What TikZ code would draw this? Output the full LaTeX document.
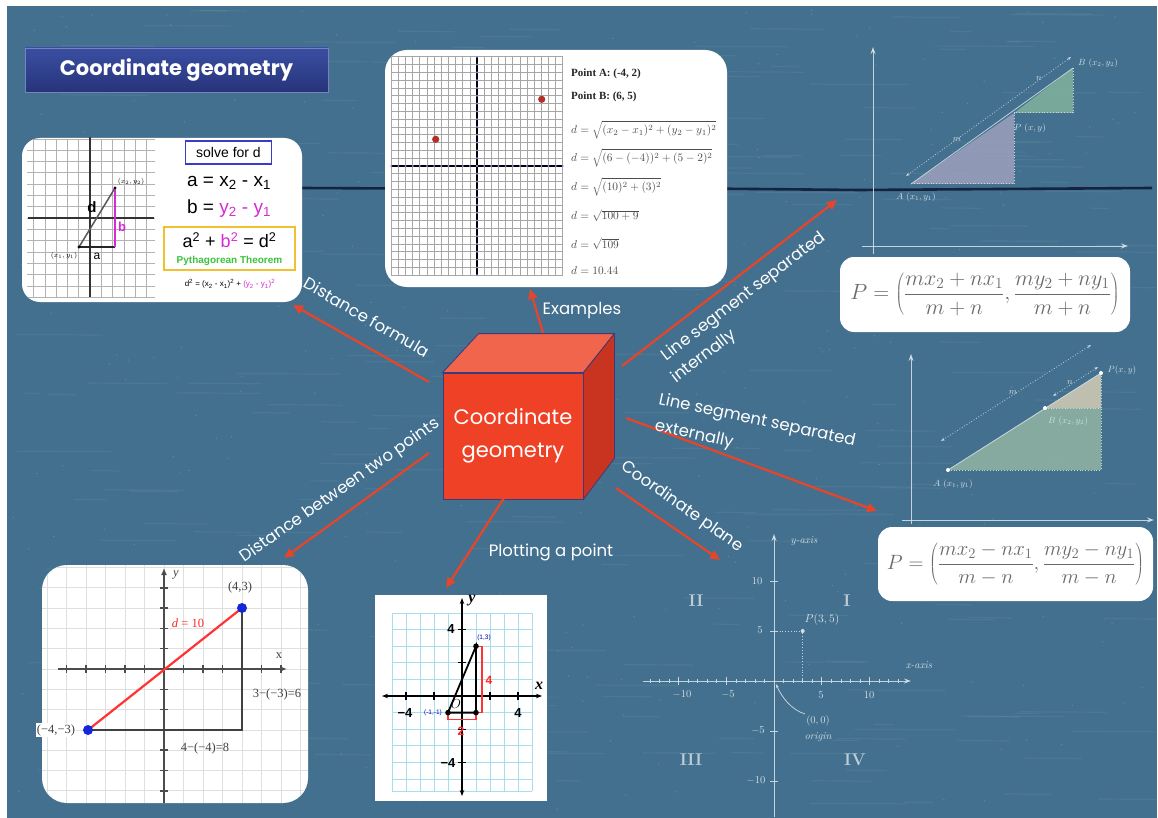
\RequirePackage{fix-cm}
\documentclass[tikz,border=0pt]{standalone}
\usepackage{fontspec}
\usetikzlibrary{arrows.meta,calc}
\newfontfamily\fpop{Poppins}
\newfontfamily\fsans{Liberation Sans}
\newfontfamily\fserif{Liberation Serif}
\definecolor{board}{HTML}{42708E}
\definecolor{crack}{HTML}{142440}
\definecolor{arred}{HTML}{E4462C}
\definecolor{chalk}{HTML}{D3DDE4}
\definecolor{cubefront}{HTML}{EE4125}
\definecolor{cubetop}{HTML}{F0654B}
\definecolor{cuberight}{HTML}{C93420}
\definecolor{cubeedge}{HTML}{3D3A7A}
\definecolor{titletop}{HTML}{3A4EA2}
\definecolor{titlebot}{HTML}{27347A}
\definecolor{formgray}{HTML}{6A6A6A}
\definecolor{magB}{HTML}{D62AD6}
\definecolor{gridblue}{HTML}{A9DCEC}
\definecolor{pyth}{HTML}{3CC23C}
\definecolor{ybox}{HTML}{F0C030}
\definecolor{solveblue}{HTML}{3B3BC8}
\definecolor{ptblue}{HTML}{1426D8}
\definecolor{dotred}{HTML}{B3302A}
\definecolor{triGray}{HTML}{A3A4C0}
\definecolor{triGreen}{HTML}{86B69C}
\definecolor{quadGreen}{HTML}{93B5A4}
\definecolor{triBeige}{HTML}{CCC8B2}
\begin{document}
\begin{tikzpicture}[x=1pt,y=-1pt,
  card/.style={fill=white,draw=none,rounded corners=#1,inner sep=0pt},
  card/.default=18pt,
  lbl/.style={text=white,font=\fpop\fontsize{16.5}{19}\selectfont,inner sep=0pt},
  conn/.style={draw=arred,line width=2.3pt,-{Triangle[length=10pt,width=9pt]}},
  chalkln/.style={draw=chalk,line width=0.8pt,opacity=0.9},
  chalkax/.style={draw=chalk,line width=0.9pt,opacity=0.9,-{Stealth[length=7pt,width=5pt]}},
  chalktxt/.style={text=chalk,font=\fontsize{9}{10}\selectfont,inner sep=1pt},
  planetxt/.style={text=chalk,font=\fontsize{10.5}{12}\selectfont,inner sep=1pt},
  quad/.style={text=chalk,font=\fontsize{17}{19}\selectfont\bfseries,inner sep=0pt,opacity=0.85},
  gridg/.style={draw=gray!60,line width=0.6pt},
  formtxt/.style={text=black!70,font=\fontsize{11.4}{13}\selectfont,inner sep=0pt,anchor=west},
  blk/.style={text=black!75,font=\fserif\fontsize{12.5}{14}\selectfont,inner sep=0pt},
  bctxt/.style={text=black,font=\fsans\bfseries\fontsize{13}{15}\selectfont,inner sep=0pt},
  ]
\useasboundingbox (0,0) rectangle (1158,818);
\fill[white] (0,0) rectangle (1158,818);
\fill[board] (7,6) rectangle (1157,818);
% chalk texture
\pgfmathsetseed{4242}
\foreach \i in {1,...,260}{
  \pgfmathsetmacro\rx{10+1100*rnd}
  \pgfmathsetmacro\ry{10+800*rnd}
  \pgfmathsetmacro\rl{15+90*rnd}
  \draw[white,opacity=0.06,line width=1.2pt] (\rx,\ry) -- (\rx+\rl,\ry+0.5);
}
\foreach \i in {1,...,300}{
  \pgfmathsetmacro\rx{10+1140*rnd}
  \pgfmathsetmacro\ry{10+800*rnd}
  \fill[white,opacity=0.18] (\rx,\ry) circle (0.7);
}
% crack line
\draw[crack,line width=2.6pt] (302,188) -- (500,189) -- (700,188.5) -- (860,190) -- (1000,189) -- (1152,188);

% ===== Title =====
\node[top color=titletop,bottom color=titlebot,draw=titletop!70!white,line width=0.6pt,
  minimum width=303,minimum height=44,inner sep=0pt,text=white,
  font=\fpop\bfseries\fontsize{21}{25}\selectfont] (title) at (176.5,70) {Coordinate geometry};

% ===== Top-left card =====
\node[card, minimum width=280, minimum height=164] (cardTL) at (162,220) {};
\begin{scope}
\clip[rounded corners=18pt] (22,138) rectangle (302,302);
\foreach \k in {-5,...,5} \draw[gridg] ({90+11.3*\k},140) -- ({90+11.3*\k},298);
\foreach \k in {-7,...,7} \draw[gridg] (27,{218+11.3*\k}) -- (155,{218+11.3*\k});
\end{scope}
\draw[black!80,line width=1.2pt] (28,218) -- (154,218);
\draw[black!80,line width=1.2pt] (90,137) -- (90,297);
\coordinate (tlA) at (79,247);
\coordinate (tlB) at (115,188);
\coordinate (tlC) at (115,247);
\draw[black!65,line width=1.5pt] (tlA) -- (tlB);
\draw[black!85,line width=1.2pt] (tlA) -- (tlC);
\draw[magB,line width=1.5pt] (tlC) -- (tlB);
\fill[black] (tlA) circle (1.6);
\fill[black] (tlB) circle (1.6);
\node[text=black,font=\fsans\bfseries\fontsize{15}{16}\selectfont,inner sep=0pt] (tld) at (92,207) {d};
\node[text=magB,font=\fsans\bfseries\fontsize{13}{14}\selectfont,inner sep=0pt] (tlb) at (122,227) {b};
\node[text=black,font=\fsans\fontsize{12}{13}\selectfont,inner sep=0pt] (tla) at (97,256) {a};
\node[text=black,font=\fontsize{7}{8}\selectfont,inner sep=0pt] (tlp1) at (64,256) {$(x_1, y_1)$};
\node[text=black,font=\fontsize{7}{8}\selectfont,inner sep=0pt] (tlp2) at (131,182) {$(x_2, y_2)$};
\node[draw=solveblue,line width=1.5pt,minimum width=86,minimum height=23,inner sep=0pt,
  font=\fsans\fontsize{14}{15}\selectfont] (solve) at (228.5,152.5) {solve for d};
\node[font=\fsans\fontsize{19}{21}\selectfont,inner sep=0pt] (eqa) at (229,183) {a = x\textsubscript{2} - x\textsubscript{1}};
\node[font=\fsans\fontsize{19}{21}\selectfont,inner sep=0pt] (eqb) at (229,209) {b = \textcolor{magB}{y\textsubscript{2} - y\textsubscript{1}}};
\node[draw=ybox,line width=2pt,minimum width=131,minimum height=43,inner sep=0pt] (pybox) at (229.5,248.5) {};
\node[font=\fsans\fontsize{18}{20}\selectfont,inner sep=0pt] (pyeq) at (229.5,240) {a\textsuperscript{2} + \textcolor{magB}{b\textsuperscript{2}} = d\textsuperscript{2}};
\node[text=pyth,font=\fsans\bfseries\fontsize{10}{11}\selectfont,inner sep=0pt] (pyname) at (229.5,261) {Pythagorean Theorem};
\node[font=\fsans\fontsize{8}{9}\selectfont,inner sep=0pt] (dsq) at (230,284) {d\textsuperscript{2} = (x\textsubscript{2} - x\textsubscript{1})\textsuperscript{2} + \textcolor{magB}{(y\textsubscript{2} - y\textsubscript{1})\textsuperscript{2}}};

% ===== Top-centre card =====
\node[card=22pt, minimum width=342, minimum height=237] (cardTC) at (556,168.5) {};
\foreach \k in {-12,...,12} \draw[draw=gray!70,line width=0.7pt] ({477+7.15*\k},57) -- ({477+7.15*\k},275);
\foreach \k in {-14,...,14} \draw[draw=gray!70,line width=0.7pt] (391,{166+7.8*\k}) -- (563,{166+7.8*\k});
\draw[black,line width=1.5pt] (477,57) -- (477,275);
\draw[black,line width=1.5pt] (391,166) -- (563,166);
\foreach \k in {-12,...,12} \fill[blue!45!white] ({477+7.15*\k},166) circle (1.1);
\foreach \k in {-14,...,14} \fill[blue!45!white] (477,{166+7.8*\k}) circle (1.1);
\fill[dotred] (435.7,139.3) circle (3.6);
\fill[dotred] (541.7,99.3) circle (3.6);
\node[anchor=west,font=\fserif\bfseries\fontsize{11}{12}\selectfont,inner sep=0pt,text=black!85] (ptA) at (571,74) {Point A: (-4, 2)};
\node[anchor=west,font=\fserif\bfseries\fontsize{11}{12}\selectfont,inner sep=0pt,text=black!85] (ptB) at (571,97) {Point B: (6, 5)};
\node[formtxt] (f1) at (571,130) {$d=\sqrt{(x_2-x_1)^2+(y_2-y_1)^2}$};
\node[formtxt] (f2) at (571,158) {$d=\sqrt{(6-(-4))^2+(5-2)^2}$};
\node[formtxt] (f3) at (571,187) {$d=\sqrt{(10)^2+(3)^2}$};
\node[formtxt] (f4) at (571,216) {$d=\sqrt{100+9}$};
\node[formtxt] (f5) at (571,244) {$d=\sqrt{109}$};
\node[formtxt] (f6) at (571,271) {$d=10.44$};

% ===== Top-right diagram =====
\fill[triGray,opacity=0.8] (911,184) -- (1014,113) -- (1014,184) -- cycle;
\fill[triGreen,opacity=0.8] (1014,113) -- (1073,68) -- (1073,113) -- cycle;
\draw[chalkln] (911,184) -- (1073,68);
\draw[chalkln,dotted,line width=1pt] (911,184) -- (1014,184) -- (1014,113) -- (1073,113) -- (1073,68);
\draw[chalkln,dotted,{Stealth[length=4pt]}-{Stealth[length=4pt]}] (906,176) -- (1071,57);
\draw[chalkax] (873,254) -- (873,47);
\draw[chalkax] (862,246) -- (1128,246);
\node[chalktxt] (trA) at (916,197) {$A\ (x_1, y_1)$};
\node[chalktxt] (trP) at (1030,128) {$P\ (x, y)$};
\node[chalktxt] (trB) at (1098,63) {$B\ (x_2, y_2)$};
\node[chalktxt] (trm) at (957,140) {$m$};
\node[chalktxt] (trn) at (1039,79) {$n$};
\node[card=14pt, minimum width=290, minimum height=75, text=formgray,
  font=\fontsize{22}{26}\selectfont] (formA) at (985,294.5)
  {$\displaystyle P=\left(\frac{mx_2+nx_1}{m+n},\frac{my_2+ny_1}{m+n}\right)$};

% ===== Middle-right diagram =====
\fill[quadGreen,opacity=0.85] (948,470) -- (1045,408) -- (1101,408) -- (1101,470) -- cycle;
\fill[triBeige,opacity=0.9] (1045,408) -- (1101,373) -- (1101,408) -- cycle;
\draw[chalkln] (948,470) -- (1101,373);
\draw[chalkln,dotted,line width=1pt] (948,470) -- (1101,470) -- (1101,373);
\draw[chalkln,dotted,line width=1pt] (1045,408) -- (1101,408);
\draw[chalkln,dotted,{Stealth[length=4pt]}-{Stealth[length=4pt]}] (941,441) -- (1091,345);
\draw[chalkln,dotted,{Stealth[length=4pt]}-{Stealth[length=4pt]}] (1053,396) -- (1098,367);
\fill[white] (948,470) circle (2);
\fill[white] (1045,408) circle (2);
\fill[white] (1101,373) circle (2);
\draw[chalkax] (911,524) -- (911,354);
\draw[chalkax] (902,520) -- (1154,520);
\node[chalktxt] (mrA) at (953,484) {$A\ (x_1, y_1)$};
\node[chalktxt] (mrB) at (1068,421) {$B\ (x_2, y_2)$};
\node[chalktxt] (mrP) at (1122,370) {$P(x, y)$};
\node[chalktxt] (mrm) at (1013,393) {$m$};
\node[chalktxt] (mrn) at (1070,383) {$n$};
\node[card=14pt, minimum width=275, minimum height=74, text=formgray,
  font=\fontsize{20.7}{25}\selectfont] (formB) at (1015.5,564)
  {$\displaystyle P=\left(\frac{mx_2-nx_1}{m-n},\frac{my_2-ny_1}{m-n}\right)$};

% ===== Bottom-right coordinate plane =====
\foreach \i in {-13,...,13} \draw[chalkln,line width=0.6pt] ({774+9.55*\i},679) -- ({774+9.55*\i},683);
\foreach \i in {-10,-5,5,10} \draw[chalkln] ({774+9.55*\i},677) -- ({774+9.55*\i},685);
\foreach \i in {-10,-5,5,10} \draw[chalkln] (770,{681-10*\i}) -- (778,{681-10*\i});
\draw[chalkax] (643,681) -- (911,681);
\draw[chalkax] (774,817) -- (774,534);
\draw[chalkln,dotted,line width=1pt] (774,631) -- (802.7,631) -- (802.7,681);
\fill[chalk] (802.7,631) circle (2);
\node[planetxt] (ylab) at (804,541) {\itshape y-axis};
\node[planetxt] (xlab) at (919,665) {\itshape x-axis};
\node[planetxt] (ty10) at (757,581) {10};
\node[planetxt] (ty5) at (760,630) {5};
\node[planetxt] (tym5) at (758,731) {$-5$};
\node[planetxt] (tym10) at (756,781) {$-10$};
\node[planetxt] (tx10m) at (682,695) {$-10$};
\node[planetxt] (tx5m) at (728,695) {$-5$};
\node[planetxt] (tx5) at (821,695) {5};
\node[planetxt] (tx10) at (869,695) {10};
\node[planetxt,font=\fontsize{11.5}{13}\selectfont] (Plab) at (822,620) {$P(3,5)$};
\node[planetxt] (orig1) at (818,721) {$(0,0)$};
\node[planetxt] (orig2) at (818,737) {\itshape origin};
\draw[chalkln,-{Stealth[length=4pt]}] (805,714) .. controls (792,710) and (782,698) .. (776,684);
\node[quad] (q2) at (696,601) {II};
\node[quad] (q1) at (847,601) {I};
\node[quad] (q3) at (691,760) {III};
\node[quad] (q4) at (855,760) {IV};

% ===== Bottom-left card =====
\node[card=25pt, minimum width=266, minimum height=238] (cardBL) at (175,684) {};
\begin{scope}
\clip[rounded corners=25pt] (42,565) rectangle (308,803);
\foreach \k in {-6,...,7} \draw[draw=gray!25,line width=0.7pt] ({164+19.5*\k},565) -- ({164+19.5*\k},803);
\foreach \k in {-6,...,6} \draw[draw=gray!25,line width=0.7pt] (42,{669+20.3*\k}) -- (308,{669+20.3*\k});
\draw[black!70,line width=2pt] (164,805) -- (164,578);
\end{scope}
\draw[black!70,line width=2pt,-{Latex[length=7pt,width=6pt]}] (164,590) -- (164,568);
\draw[black!70,line width=2pt,-{Latex[length=7pt,width=6pt]}] (58,669) -- (287,669);
\foreach \k in {-5,...,6} \draw[black!70,line width=1.5pt] ({164+19.5*\k},665) -- ({164+19.5*\k},673);
\foreach \k in {-6,...,4} \draw[black!70,line width=1.5pt] (160,{669-20.3*\k}) -- (168,{669-20.3*\k});
\coordinate (blA) at (88,730);
\coordinate (blB) at (242,608);
\coordinate (blC) at (242,730);
\draw[black!75,line width=1.8pt] (blA) -- (blC) -- (blB);
\draw[red!80!white,line width=2.2pt] (blA) -- (blB);
\node[blk,fill=white,inner sep=1pt] (blm43) at (56,730) {(−4,−3)};
\fill[ptblue] (blA) circle (5);
\fill[ptblue] (blB) circle (5);
\node[blk] (bl43) at (240,587) {(4,3)};
\node[blk,font=\fserif\itshape\fontsize{12.5}{14}\selectfont] (bly) at (176,575) {y};
\node[blk] (blx) at (279,656) {x};
\node[blk,text=red!85!white] (bld) at (188,623) {\textit{d} = 10};
\node[blk] (bl6) at (277,694) {3−(−3)=6};
\node[blk] (bl8) at (205,748) {4−(−4)=8};

% ===== Bottom-centre card =====
\node[fill=white,minimum width=172,minimum height=206,inner sep=0pt] (cardBC) at (461,698) {};
\foreach \k in {-5,...,5} \draw[draw=gridblue,line width=0.8pt] ({462+14*\k},613) -- ({462+14*\k},791);
\foreach \k in {-5,...,5} \draw[draw=gridblue,line width=0.8pt] (392,{696-16.6*\k}) -- (532,{696-16.6*\k});
\draw[draw=gridblue,line width=0.8pt] (392,791) -- (532,791);
\draw[black,line width=1.6pt,{Stealth[length=6pt]}-{Stealth[length=6pt]}] (382,696) -- (542,696);
\draw[black,line width=1.6pt,{Stealth[length=6pt]}-{Stealth[length=6pt]}] (462,598) -- (462,796);
\foreach \k in {-4,-2,2,4} \draw[black,line width=1.2pt] ({462+14*\k},692) -- ({462+14*\k},700);
\foreach \k in {-4,-2,2,4} \draw[black,line width=1.2pt] (458,{696-16.6*\k}) -- (466,{696-16.6*\k});
\coordinate (bcA) at (448,712.6);
\coordinate (bcB) at (476,646.2);
\coordinate (bcC) at (476,712.6);
\draw[red!80!white,line width=1.3pt] (477,646.2) -- (482,646.2) -- (482,712.6) -- (477,712.6);
\draw[red!80!white,line width=1.3pt] (448,714) -- (448,719.5) -- (476,719.5) -- (476,714);
\draw[black,line width=1.8pt] (bcA) -- (bcB) -- (bcC) -- cycle;
\fill[black] (bcA) circle (2.8);
\fill[black] (bcB) circle (2.8);
\fill[black] (bcC) circle (2.8);
\node[text=red!85!white,font=\fsans\bfseries\fontsize{12}{13}\selectfont,inner sep=0pt] (bc4r) at (489,680) {4};
\node[text=red!85!white,font=\fsans\bfseries\fontsize{12}{13}\selectfont,inner sep=0pt] (bc2r) at (461,731) {2};
\node[text=blue!70!black,font=\fsans\fontsize{6.5}{7}\selectfont,inner sep=0pt] (bc13) at (484,638) {(1,3)};
\node[text=blue!70!black,font=\fsans\fontsize{6.5}{7}\selectfont,inner sep=0pt] (bcm11) at (433,713) {(-1,-1)};
\node[font=\fontsize{13}{14}\selectfont,inner sep=0pt] (bcO) at (456,704) {$O$};
\node[font=\fserif\bfseries\itshape\fontsize{16}{17}\selectfont,inner sep=0pt] (bcy) at (472,601) {y};
\node[font=\fserif\bfseries\itshape\fontsize{16}{17}\selectfont,inner sep=0pt] (bcx) at (539,686) {x};
\node[bctxt] (bcx4) at (518,713) {4};
\node[bctxt] (bcxm4) at (405,713) {−4};
\node[bctxt] (bcy4) at (451,629) {4};
\node[bctxt] (bcym4) at (448,763) {−4};

% ===== Cube =====
\node[fill=cubefront,draw=cubeedge,line width=0.8pt,minimum width=140,minimum height=126,
  inner sep=0pt,text=white,font=\fpop\fontsize{21}{33}\selectfont,align=center] (cube) at (513,436)
  {Coordinate\\geometry};
\filldraw[fill=cubetop,draw=cubeedge,line width=0.8pt] (cube.north west) -- ($(cube.north west)+(36,-39)$) -- ($(cube.north east)+(31,-39)$) -- (cube.north east) -- cycle;
\filldraw[fill=cuberight,draw=cubeedge,line width=0.8pt] (cube.north east) -- ($(cube.north east)+(31,-39)$) -- ($(cube.south east)+(31,-41)$) -- (cube.south east) -- cycle;

% ===== Connectors =====
\coordinate (a1s) at (429,382);  \coordinate (a1e) at (293,305);
\coordinate (a2s) at (543,333);  \coordinate (a2e) at (530,289);
\coordinate (a3s) at (622,366);  \coordinate (a3e) at (837,200);
\coordinate (a4s) at (626,418);  \coordinate (a4e) at (877,511);
\coordinate (a5s) at (616,488);  \coordinate (a5e) at (720,560);
\coordinate (a6s) at (504,498);  \coordinate (a6e) at (446,588);
\coordinate (a7s) at (429,453);  \coordinate (a7e) at (284,558);
\draw[conn] (a1s) -- (a1e);
\draw[conn] (a2s) -- (a2e);
\draw[conn] (a3s) -- (a3e);
\draw[conn] (a4s) -- (a4e);
\draw[conn] (a5s) -- (a5e);
\draw[conn] (a6s) -- (a6e);
\draw[conn] (a7s) -- (a7e);

\node[lbl,rotate=-30] (l1) at (367,317) {Distance formula};
\node[lbl] (l2) at (582,311) {Examples};
\node[lbl,rotate=37.5] (l3) at (744,297) {Line segment separated};
\node[lbl,rotate=37.5] (l3b) at (704,357) {internally};
\node[lbl,rotate=-12] (l4) at (757,421) {Line segment separated};
\node[lbl,rotate=-12] (l4b) at (694,435) {externally};
\node[lbl,rotate=-35] (l5) at (682,507) {Coordinate plane};
\node[lbl] (l6) at (551,552) {Plotting a point};
\node[lbl,rotate=35] (l7) at (340,491) {Distance between two points};
\end{tikzpicture}
\end{document}
